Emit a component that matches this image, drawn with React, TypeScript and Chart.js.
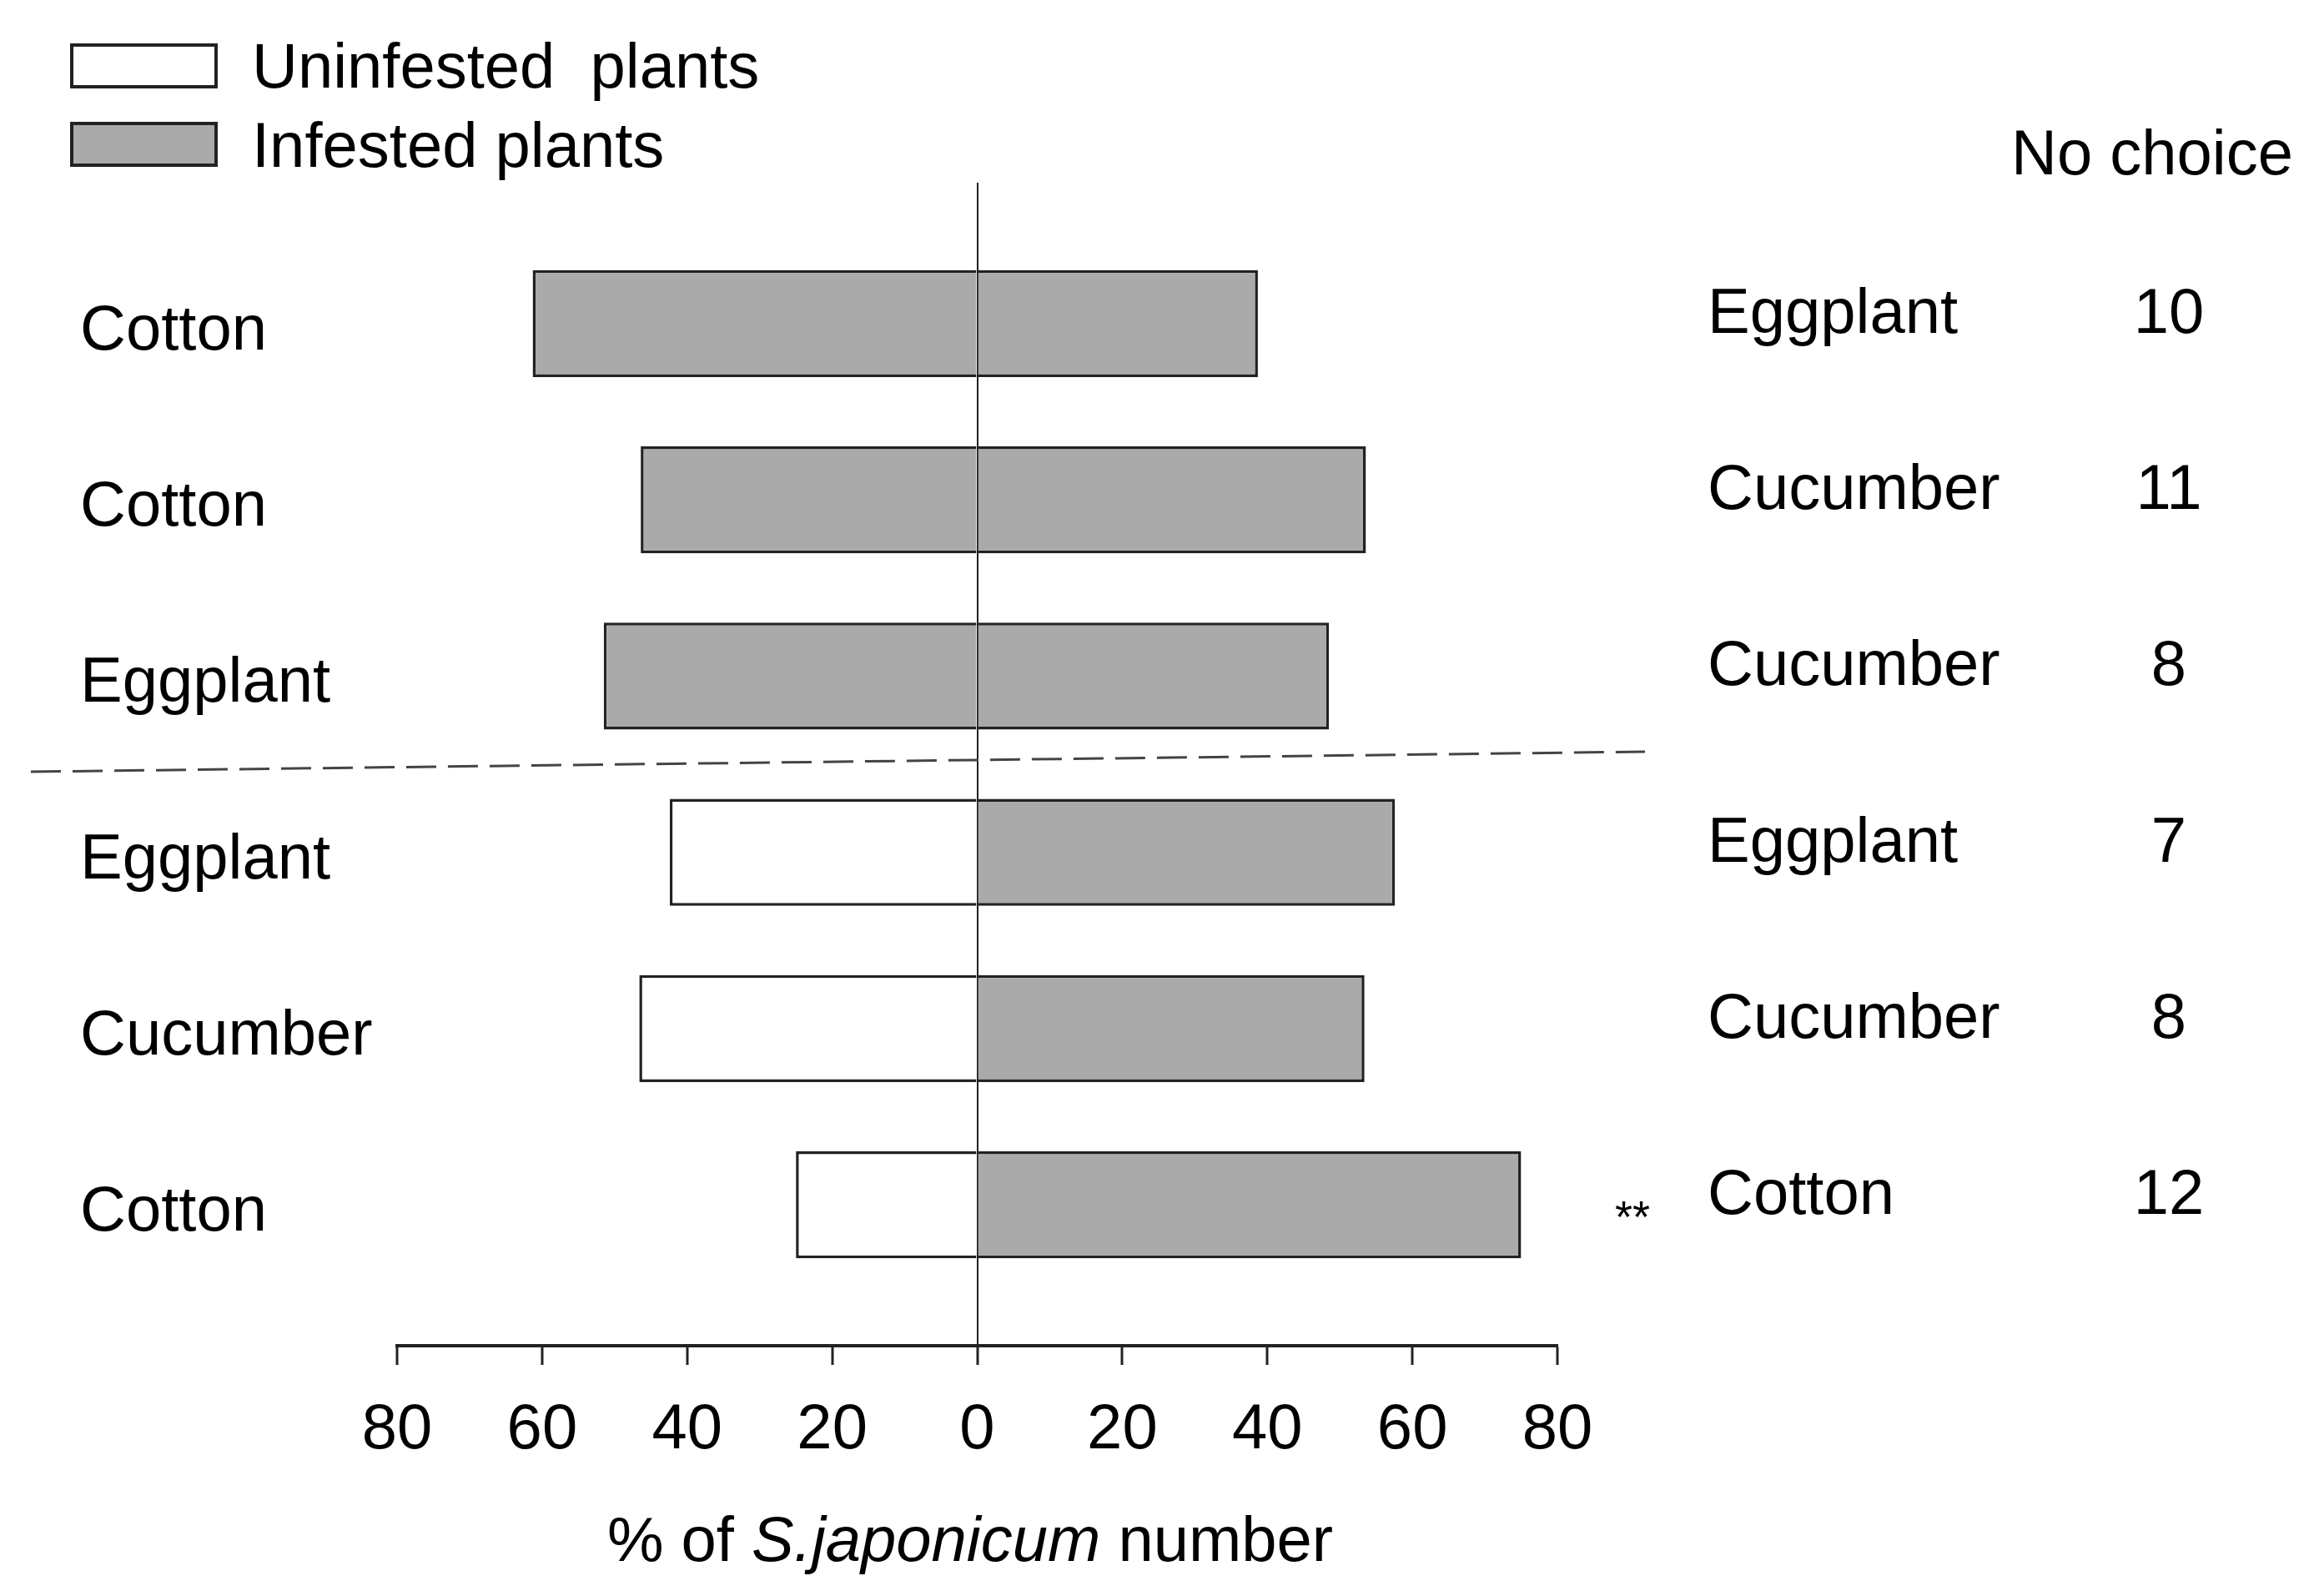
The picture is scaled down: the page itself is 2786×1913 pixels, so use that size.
import React, { useEffect, useRef } from "react";
import { Chart, registerables } from "chart.js";

Chart.register(...registerables);

// ---- data ----
const leftLabels = ["Cotton", "Cotton", "Eggplant", "Eggplant", "Cucumber", "Cotton"];
const rightLabels = ["Eggplant", "Cucumber", "Cucumber", "Eggplant", "Cucumber", "Cotton"];
const noChoice = ["10", "11", "8", "7", "8", "12"];
const leftValues = [61.3, 46.4, 51.5, 42.4, 46.6, 25.0];
const rightValues = [38.7, 53.6, 48.5, 57.6, 53.4, 75.0];
const leftTreatment = ["Infested", "Infested", "Infested", "Uninfested", "Uninfested", "Uninfested"];
const significance = ["", "", "", "", "", "**"];
const xTicks = [-80, -60, -40, -20, 0, 20, 40, 60, 80];
const legendLabels = ["Uninfested  plants", "Infested plants"];

// ---- styles ----
const FONT = '"Liberation Sans", Arial, Helvetica, sans-serif';
const GRAY = "#aaaaaa";
const WHITE = "#ffffff";
const DARK = "#222222";

const overlayPlugin = {
  id: "overlay",
  afterDraw(chart: any) {
    const ctx = chart.ctx;
    const ys = chart.scales.y;
    ctx.save();
    ctx.fillStyle = "#000";
    ctx.textBaseline = "middle";

    // legend
    const boxes = [
      { y: 54, fill: WHITE, text: legendLabels[0], ty: 84 },
      { y: 148, fill: GRAY, text: legendLabels[1], ty: 179 },
    ];
    boxes.forEach((b) => {
      ctx.fillStyle = b.fill;
      ctx.fillRect(86, b.y, 173, 50);
      ctx.strokeStyle = DARK;
      ctx.lineWidth = 4;
      ctx.strokeRect(86, b.y, 173, 50);
      ctx.fillStyle = "#000";
      ctx.font = `76px ${FONT}`;
      ctx.textAlign = "left";
      ctx.fillText(b.text, 302, b.ty);
    });

    // right column header
    ctx.font = `76px ${FONT}`;
    ctx.textAlign = "left";
    ctx.fillText("No choice", 2411, 188);

    // right labels and numbers
    rightLabels.forEach((lab, i) => {
      const y = ys.getPixelForValue(i + 1) - 10;
      ctx.font = `76px ${FONT}`;
      ctx.textAlign = "left";
      ctx.fillText(lab, 2047, y);
      ctx.textAlign = "center";
      ctx.fillText(noChoice[i], 2600, y);
      if (significance[i]) {
        ctx.font = `54px ${FONT}`;
        ctx.textAlign = "center";
        ctx.fillText(significance[i], 1957, y + 28);
      }
    });

    // dashed separator between groups
    const yMid = (ys.getPixelForValue(3) + ys.getPixelForValue(4)) / 2;
    ctx.strokeStyle = "#444";
    ctx.lineWidth = 3;
    ctx.setLineDash([36, 14]);
    ctx.beginPath();
    ctx.moveTo(37, yMid + 9);
    ctx.lineTo(1972, yMid - 15);
    ctx.stroke();
    ctx.setLineDash([]);

    // axis title with italic species name
    const parts = [
      { t: "% of ", f: `76px ${FONT}` },
      { t: "S.japonicum", f: `italic 76px ${FONT}` },
      { t: " number", f: `76px ${FONT}` },
    ];
    let total = 0;
    parts.forEach((p) => {
      ctx.font = p.f;
      total += ctx.measureText(p.t).width;
    });
    let x = 1163 - total / 2;
    ctx.textAlign = "left";
    ctx.fillStyle = "#000";
    parts.forEach((p) => {
      ctx.font = p.f;
      ctx.fillText(p.t, x, 1850);
      x += ctx.measureText(p.t).width;
    });
    ctx.restore();
  },
};

export default function App() {
  const ref = useRef<HTMLCanvasElement | null>(null);

  useEffect(() => {
    if (!ref.current) return;
    const chart = new Chart(ref.current, {
      type: "bar",
      data: {
        datasets: [
          {
            label: "Left",
            data: leftValues.map((v, i) => ({ x: -v, y: i + 1 })),
            backgroundColor: leftTreatment.map((t) => (t === "Infested" ? GRAY : WHITE)),
            borderColor: DARK,
            borderWidth: 3.5,
            borderSkipped: "start",
            grouped: false,
            barPercentage: 0.607,
            categoryPercentage: 1,
          } as any,
          {
            label: "Right",
            data: rightValues.map((v, i) => ({ x: v, y: i + 1 })),
            backgroundColor: GRAY,
            borderColor: DARK,
            borderWidth: 3.5,
            borderSkipped: "start",
            grouped: false,
            barPercentage: 0.607,
            categoryPercentage: 1,
          } as any,
        ],
      },
      options: {
        indexAxis: "y",
        animation: false,
        responsive: true,
        maintainAspectRatio: false,
        devicePixelRatio: 1,
        layout: { padding: { top: 219, left: 96, right: 919, bottom: 0 } },
        plugins: {
          legend: { display: false },
          tooltip: { enabled: false },
          title: { display: false },
        },
        scales: {
          x: {
            type: "linear",
            min: -80,
            max: 80,
            z: 1,
            afterBuildTicks: (s: any) => {
              s.ticks = xTicks.map((v) => ({ value: v }));
            },
            ticks: {
              callback: (v: any) => String(Math.abs(Number(v))),
              font: { family: FONT, size: 76 },
              color: "#000",
              padding: 33,
              maxRotation: 0,
              autoSkip: false,
            },
            grid: {
              color: (c: any) => (c.tick && c.tick.value === 0 ? DARK : "rgba(0,0,0,0)"),
              lineWidth: 2,
              drawTicks: true,
              tickLength: 23,
              tickColor: DARK,
              tickWidth: 3,
            },
            border: { display: true, color: DARK, width: 4 },
            afterFit: (s: any) => {
              s.height = 300;
            },
          },
          y: {
            type: "linear",
            min: 0.2,
            max: 6.8,
            reverse: true,
            offset: false,
            afterBuildTicks: (s: any) => {
              s.ticks = leftLabels.map((_, i) => ({ value: i + 1 }));
            },
            ticks: {
              callback: (v: any) => leftLabels[Number(v) - 1] ?? "",
              font: { family: FONT, size: 76 },
              color: "#000",
              crossAlign: "far",
              padding: 0,
              labelOffset: 10,
              autoSkip: false,
            },
            grid: { display: false, offset: false },
            border: { display: false },
            afterFit: (s: any) => {
              s.width = 380;
            },
          },
        },
      } as any,
      plugins: [overlayPlugin],
    });
    return () => chart.destroy();
  }, []);

  return (
    <div style={{ position: "absolute", left: 0, top: 0, width: 2786, height: 1913, background: "#fff" }}>
      <canvas ref={ref} />
    </div>
  );
}
